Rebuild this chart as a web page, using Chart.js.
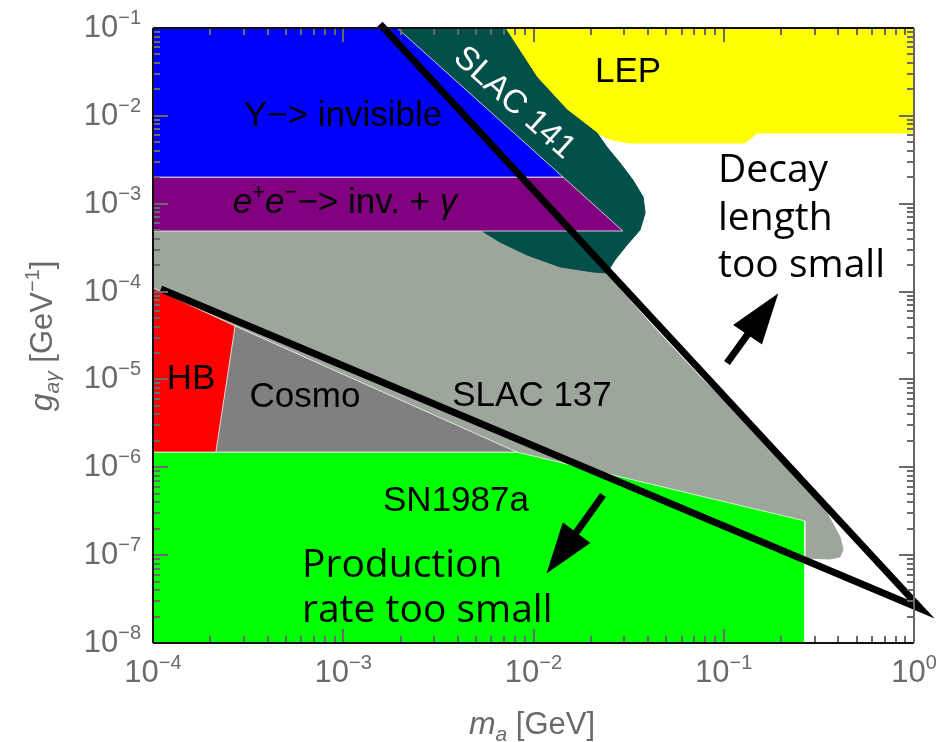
<!DOCTYPE html>
<html><head><meta charset="utf-8">
<script src="https://cdn.jsdelivr.net/npm/chart.js@4/dist/chart.umd.min.js"></script>
<style>html,body{margin:0;padding:0;background:#fff}canvas{display:block}</style>
</head><body>
<canvas id="c" width="949" height="742"></canvas>
<script>
// ---------- data (x: m_a [GeV], y: g_aγ [GeV^-1]) ----------
const xTickExponents = [-4, -3, -2, -1, 0];
const yTickExponents = [-1, -2, -3, -4, -5, -6, -7, -8];

const upsilonInvisible = [[1e-4,0.1],[1.92e-3,0.1],[1.43e-2,2.01e-3],[1e-4,2.01e-3]];
const eeInvGamma = [[1e-4,2.01e-3],[1.43e-2,2.01e-3],[2.95e-2,4.89e-4],[1e-4,4.89e-4]];
const slac141 = [[1.92e-3,0.1],[7.08e-3,0.1],[1.04e-2,2.77e-2],[1.50e-2,1.17e-2],[2.16e-2,6.38e-3],
  [2.43e-2,4.42e-3],[2.85e-2,2.91e-3],[3.33e-2,1.86e-3],[3.77e-2,1.19e-3],[3.86e-2,7.84e-4],
  [3.63e-2,5.02e-4],[3.10e-2,3.39e-4],[2.68e-2,2.29e-4],[2.43e-2,1.63e-4],[2.06e-2,1.67e-4],
  [1.38e-2,1.91e-4],[9.25e-3,2.61e-4],[6.67e-3,3.66e-4],[5.36e-3,4.89e-4],[3.23e-3,1.86e-3]];
const lep = [[2.86e-3,0.1],[1,0.1],[1,6.38e-3],[0.150,6.38e-3],[0.129,4.91e-3],[3.21e-2,4.91e-3],
  [2.59e-2,5.31e-3],[1.98e-2,6.90e-3]];
const slac137 = [[1e-4,4.89e-4],[2.24e-2,4.89e-4],[2.32e-2,1.76e-4],[4.09e-2,4.39e-5],[7.5e-2,1.07e-5],
  [0.137,2.88e-6],[0.243,9.31e-7],[0.349,3.02e-7],[0.408,1.61e-7],[0.424,1.15e-7],[0.408,9.53e-8],
  [0.361,9.03e-8],[0.274,9.27e-8],[0.2,9.3e-8],[1e-4,9.3e-8]];
const hb = [[1e-4,1.10e-4],[2.70e-4,4.06e-5],[2.14e-4,1.49e-6],[1e-4,1.49e-6]];
const cosmo = [[2.70e-4,4.06e-5],[8.18e-3,1.49e-6],[2.14e-4,1.49e-6]];
const sn1987a = [[1e-4,1.49e-6],[8.18e-3,1.49e-6],[0.267,2.45e-7],[0.267,1e-8],[1e-4,1e-8]];
const boundaryLines = [[1.56e-3,0.111],[1.089,2.44e-8],[1.10e-4,1.07e-4]];
const decayArrowShaft = [[0.104,1.54e-5],[0.134,3.29e-5]];
const decayArrowHead = [[0.193,9.38e-5],[0.113,4.17e-5],[0.159,2.53e-5]];
const prodArrowShaft = [[2.32e-2,4.84e-7],[1.67e-2,1.79e-7]];
const prodArrowHead = [[1.18e-2,6.26e-8],[1.43e-2,2.32e-7],[1.98e-2,1.37e-7]];

// ---------- styling ----------
const LS = '"Liberation Sans", Arial, Helvetica, sans-serif';
const OS = '"Open Sans", "Noto Sans", sans-serif';
const AXIS_GRAY = '#6a6a6a';
const EDGE = 'rgba(255,255,255,0.75)';

const pts = a => a.map(([x, y]) => ({x, y}));
function region(data, color, order, edge) {
  return { data: pts(data), backgroundColor: color, borderColor: edge || color,
           borderWidth: 1, fill: 'shape', order, pointRadius: 0, tension: 0 };
}
function stroke(data, order, width) {
  return { data: pts(data), borderColor: '#000', backgroundColor: '#000', borderWidth: width,
           fill: false, order, pointRadius: 0, tension: 0, clip: false,
           borderJoinStyle: 'miter', borderCapStyle: 'butt' };
}

const datasets = [
  stroke(boundaryLines, 0, 7),
  stroke(decayArrowShaft, 1, 7),
  region(decayArrowHead, '#000', 1),
  stroke(prodArrowShaft, 1, 7),
  region(prodArrowHead, '#000', 1),
  region(upsilonInvisible, '#0000ff', 2, EDGE),
  region(eeInvGamma, '#800080', 3, EDGE),
  region(hb, '#ff0000', 4, EDGE),
  region(cosmo, '#808080', 5, EDGE),
  region(sn1987a, '#00ff00', 6, EDGE),
  region(slac141, '#03504b', 7),
  region(lep, '#ffff00', 8),
  region(slac137, '#9ca69b', 9)
];

function drawRuns(ctx, runs, x, y, align) {
  let w = 0;
  for (const r of runs) { ctx.font = r.f; w += ctx.measureText(r.t).width; }
  let cx = align === 'center' ? x - w / 2 : (align === 'right' ? x - w : x);
  for (const r of runs) {
    ctx.font = r.f;
    ctx.fillText(r.t, cx, y + (r.dy || 0));
    cx += ctx.measureText(r.t).width;
  }
}

const overlay = {
  id: 'overlay',
  afterDraw(chart) {
    const {ctx, chartArea: a} = chart;
    const xs = chart.scales.x, ys = chart.scales.y;
    ctx.save();
    // inside ticks on all four sides
    ctx.strokeStyle = AXIS_GRAY; ctx.lineWidth = 2;
    const seg = (x1, y1, x2, y2) => { ctx.beginPath(); ctx.moveTo(x1, y1); ctx.lineTo(x2, y2); ctx.stroke(); };
    for (let e = -4; e <= 0; e++) {
      for (let m = 1; m <= 9; m++) {
        const v = m * Math.pow(10, e);
        if (v > xs.max * 1.0001) break;
        const px = Math.round(xs.getPixelForValue(v));
        const len = m === 1 ? 14 : 7;
        seg(px, a.bottom, px, a.bottom - len);
        seg(px, a.top, px, a.top + len);
      }
    }
    for (let e = -8; e <= -1; e++) {
      for (let m = 1; m <= 9; m++) {
        const v = m * Math.pow(10, e);
        if (v > ys.max * 1.0001) break;
        const py = Math.round(ys.getPixelForValue(v));
        const len = m === 1 ? 15 : 7;
        seg(a.left, py, a.left + len, py);
        seg(a.right, py, a.right - len, py);
      }
    }
    // frame
    ctx.lineWidth = 2;
    ctx.strokeStyle = '#111';
    seg(a.left, a.top, a.right, a.top);
    seg(a.left, a.top, a.left, a.bottom);
    seg(a.left, a.bottom, a.right, a.bottom);
    ctx.strokeStyle = '#666';
    seg(a.right, a.top, a.right, a.bottom);

    // tick labels
    ctx.fillStyle = AXIS_GRAY; ctx.textBaseline = 'alphabetic'; ctx.textAlign = 'left';
    for (const e of xTickExponents) {
      const px = xs.getPixelForValue(Math.pow(10, e));
      drawRuns(ctx, [{t: '10', f: `31px ${LS}`}, {t: e < 0 ? '\u2212' + (-e) : String(e), f: `20px ${LS}`, dy: -13}], px, a.bottom + 39, 'center');
    }
    for (const e of yTickExponents) {
      const py = ys.getPixelForValue(Math.pow(10, e));
      drawRuns(ctx, [{t: '10', f: `31px ${LS}`}, {t: '\u2212' + (-e), f: `20px ${LS}`, dy: -13}], 141, py + 9, 'right');
    }
    // axis titles
    drawRuns(ctx, [{t: 'm', f: `italic 32px ${LS}`}, {t: 'a', f: `italic 21px ${LS}`, dy: 7}, {t: ' [GeV]', f: `31px ${LS}`}], 532, 734, 'center');
    ctx.save();
    ctx.translate(52, 336); ctx.rotate(-Math.PI / 2);
    drawRuns(ctx, [{t: 'g', f: `italic 32px ${LS}`}, {t: 'a\u03b3', f: `italic 21px ${LS}`, dy: 7},
      {t: ' [GeV', f: `31px ${LS}`}, {t: '\u22121', f: `20px ${LS}`, dy: -13}, {t: ']', f: `31px ${LS}`}], 0, 0, 'center');
    ctx.restore();

    // region labels
    ctx.fillStyle = '#000';
    const F = `35px ${LS}`, FI = `italic 35px ${LS}`;
    drawRuns(ctx, [{t: '\u03a5\u2212> invisible', f: F}], 343, 126, 'center');
    drawRuns(ctx, [{t: 'e', f: FI}, {t: '+', f: `22px ${LS}`, dy: -14}, {t: 'e', f: FI}, {t: '\u2212', f: `22px ${LS}`, dy: -14},
      {t: '\u2212> inv. + ', f: F}, {t: '\u03b3', f: FI}], 345, 213, 'center');
    drawRuns(ctx, [{t: 'LEP', f: F}], 628, 82, 'center');
    drawRuns(ctx, [{t: 'HB', f: F}], 191, 389, 'center');
    drawRuns(ctx, [{t: 'Cosmo', f: F}], 305, 407, 'center');
    drawRuns(ctx, [{t: 'SLAC 137', f: F}], 532, 406, 'center');
    drawRuns(ctx, [{t: 'SN1987a', f: F}], 456, 511, 'center');
    ctx.save();
    ctx.fillStyle = '#fff';
    ctx.translate(514, 103); ctx.rotate(42 * Math.PI / 180);
    ctx.textBaseline = 'middle';
    drawRuns(ctx, [{t: 'SLAC 141', f: `33px ${LS}`}], 0, 0, 'center');
    ctx.restore();

    ctx.fillStyle = '#000';
    const FO = `39px ${OS}`;
    drawRuns(ctx, [{t: 'Production', f: FO}], 302, 577, 'left');
    drawRuns(ctx, [{t: 'rate too small', f: FO}], 302, 622, 'left');
    drawRuns(ctx, [{t: 'Decay', f: FO}], 718, 182, 'left');
    drawRuns(ctx, [{t: 'length', f: FO}], 718, 230, 'left');
    drawRuns(ctx, [{t: 'too small', f: FO}], 718, 277, 'left');
    ctx.restore();
  }
};

new Chart(document.getElementById('c').getContext('2d'), {
  type: 'line',
  data: { datasets },
  options: {
    responsive: false, animation: false, devicePixelRatio: 1, events: [],
    layout: { padding: { left: 153, right: 35, top: 28, bottom: 99 } },
    plugins: { legend: { display: false }, tooltip: { enabled: false } },
    elements: { point: { radius: 0, hoverRadius: 0 } },
    scales: {
      x: { type: 'logarithmic', min: 1e-4, max: 1, display: false },
      y: { type: 'logarithmic', min: 1e-8, max: 1e-1, display: false }
    }
  },
  plugins: [overlay]
});
</script>
</body></html>
